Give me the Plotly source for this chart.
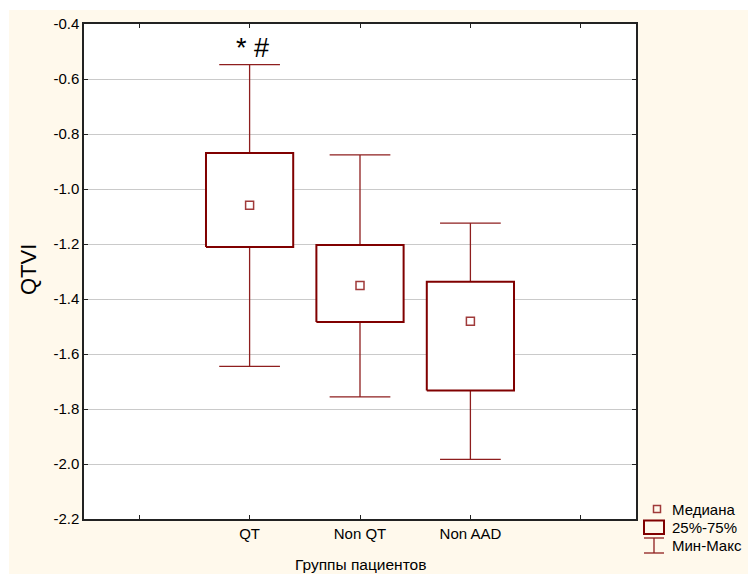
import plotly.graph_objects as go

# ---- data ----
groups = ["QT", "Non QT", "Non AAD"]
mins = [-1.645, -1.756, -1.983]
q1 = [-1.211, -1.484, -1.733]
medians = [-1.059, -1.351, -1.481]
q3 = [-0.869, -1.204, -1.337]
maxs = [-0.548, -0.876, -1.124]
tick_labels = ["", "QT", "Non QT", "Non AAD", ""]
y_ticks = [-2.2, -2.0, -1.8, -1.6, -1.4, -1.2, -1.0, -0.8, -0.6, -0.4]

positions = [1, 2, 3]
BOX_HW = 0.395
CAP_HW = 0.275
BOX_COLOR = "#800000"
WHISK_COLOR = "#8E1E1E"
MED_COLOR = "#A03A3A"
FONT = "Arial, Liberation Sans, sans-serif"
CREAM = "#FFF9EC"

fig = go.Figure()

for p, lo, a, m, b, hi in zip(positions, mins, q1, medians, q3, maxs):
    # whiskers + caps
    fig.add_trace(go.Scatter(
        x=[p, p, None, p, p, None, p - CAP_HW, p + CAP_HW, None, p - CAP_HW, p + CAP_HW],
        y=[b, hi, None, a, lo, None, hi, hi, None, lo, lo],
        mode="lines", line=dict(color=WHISK_COLOR, width=1.3),
        hoverinfo="skip", showlegend=False))
    # box (25%-75%)
    fig.add_trace(go.Scatter(
        x=[p - BOX_HW, p + BOX_HW, p + BOX_HW, p - BOX_HW, p - BOX_HW],
        y=[a, a, b, b, a],
        mode="lines", line=dict(color=BOX_COLOR, width=2),
        fill="toself", fillcolor="white",
        hoverinfo="skip", showlegend=False))

# medians
fig.add_trace(go.Scatter(
    x=positions, y=medians, mode="markers",
    marker=dict(symbol="square-open", size=8, color=MED_COLOR, line=dict(width=1.5)),
    showlegend=False))

# significance annotation
fig.add_annotation(x=positions[0] + 0.03, y=maxs[0], text="* #", showarrow=False,
                   yanchor="bottom", yshift=0, font=dict(family=FONT, size=27, color="black"))

# ---- layout geometry helpers (decoration only) ----
L, R, T, B = 84, 636, 24, 519
def px(x):
    return (x - L) / (R - L)
def py(y):
    return (B - y) / (B - T)

shapes = []
# white strips at top and left of the cream paper
shapes.append(dict(type="rect", xref="paper", yref="paper", x0=px(-5), x1=px(760), y0=py(10), y1=py(-5),
                   fillcolor="white", line=dict(width=0), layer="below"))
shapes.append(dict(type="rect", xref="paper", yref="paper", x0=px(-5), x1=px(9), y0=py(580), y1=py(-5),
                   fillcolor="white", line=dict(width=0), layer="below"))
# legend: median square
shapes.append(dict(type="rect", xref="paper", yref="paper", x0=px(653.5), x1=px(660.5), y0=py(505.5), y1=py(512.5),
                   line=dict(color=MED_COLOR, width=1.5), fillcolor="rgba(0,0,0,0)"))
# legend: box
shapes.append(dict(type="rect", xref="paper", yref="paper", x0=px(644), x1=px(664), y0=py(520.5), y1=py(534),
                   line=dict(color=BOX_COLOR, width=2), fillcolor="rgba(0,0,0,0)"))
# legend: whisker
for (x0, y0, x1, y1) in [(644, 538, 664, 538), (654, 538, 654, 553), (644, 553, 664, 553)]:
    shapes.append(dict(type="line", xref="paper", yref="paper", x0=px(x0), y0=py(y0), x1=px(x1), y1=py(y1),
                       line=dict(color=WHISK_COLOR, width=1.3)))

annotations = []
for txt, yy in [("Медиана", 509), ("25%-75%", 527), ("Мин-Макс", 545)]:
    annotations.append(dict(xref="paper", yref="paper", x=px(670), y=py(yy), text=txt, showarrow=False,
                            xanchor="left", yanchor="middle", font=dict(family=FONT, size=15, color="black")))
annotations.append(dict(xref="paper", yref="paper", x=px(28), y=py(270), text="QTVI", showarrow=False,
                        textangle=-90, xanchor="center", yanchor="middle",
                        font=dict(family=FONT, size=22, color="black")))
annotations.append(dict(xref="paper", yref="paper", x=px(360), y=py(564), text="Группы пациентов", showarrow=False,
                        xanchor="center", yanchor="middle", font=dict(family=FONT, size=15.5, color="black")))

fig.update_layout(
    width=748, height=574,
    margin=dict(l=L, r=748 - R, t=T, b=574 - B),
    paper_bgcolor=CREAM, plot_bgcolor="white",
    font=dict(family=FONT, size=15, color="black"),
    shapes=shapes, annotations=list(fig.layout.annotations) + annotations,
    showlegend=False,
)
fig.update_xaxes(
    range=[-0.5, 4.5], tickmode="array", tickvals=list(range(len(tick_labels))), ticktext=tick_labels,
    showgrid=False, zeroline=False, showline=True, linecolor="#222", linewidth=1.5, mirror="allticks",
    ticks="inside", ticklen=4, tickcolor="#222", tickfont=dict(size=15),
)
fig.update_yaxes(
    range=[-2.2, -0.4], tickmode="array", tickvals=y_ticks, ticktext=[f"{v:.1f}" for v in y_ticks],
    showgrid=True, gridcolor="#CACACA", gridwidth=1, zeroline=False,
    showline=True, linecolor="#222", linewidth=1.5, mirror="allticks",
    ticks="inside", ticklen=4, tickcolor="#222", tickfont=dict(size=15),
)

fig.write_html("out.html", config={"displayModeBar": False},
               post_script="document.body.style.margin='0px';document.body.style.overflow='hidden';")
